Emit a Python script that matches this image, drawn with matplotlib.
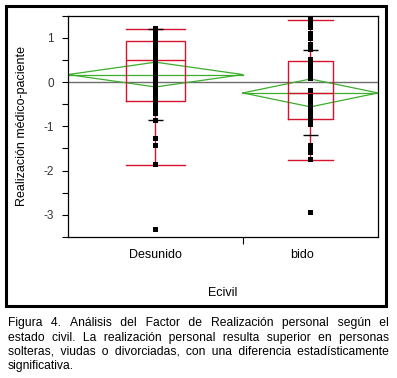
import matplotlib
matplotlib.use('Agg')
import matplotlib.pyplot as plt
from matplotlib.patches import Rectangle
from matplotlib.transforms import ScaledTranslation
import numpy as np

plt.rcParams['font.family'] = ['Liberation Sans', 'DejaVu Sans']

# ---------------- data ----------------
categories = ['Desunido', 'bido']
group_n = [57, 44]

desunido_vals = [1.22, 1.19, 1.16, 1.12, 1.08, 1.04, 1.00, 0.96, 0.92, 0.88, 0.84,
                 0.80, 0.76, 0.72, 0.68, 0.61, 0.57, 0.52, 0.46, 0.42, 0.38, 0.34,
                 0.30, 0.25, 0.20, 0.16, 0.12, 0.08, 0.03, -0.02, -0.06, -0.10,
                 -0.14, -0.18, -0.25, -0.30, -0.35, -0.44, -0.48, -0.52, -0.56,
                 -0.60, -0.64, -0.69, -0.86, -1.26, -1.42, -1.85, -3.33]
unido_vals = [1.43, 1.39, 1.35, 1.30, 1.25, 1.11, 1.00, 0.87, 0.83, 0.79, 0.74,
              0.53, 0.47, 0.42, 0.37, 0.32, 0.27, 0.22, 0.15, 0.10, -0.18, -0.31,
              -0.36, -0.42, -0.53, -0.59, -0.64, -0.69, -0.74, -0.79, -0.84,
              -0.89, -0.95, -1.43, -1.48, -1.53, -1.58, -1.73, -2.93]

q1 = [-0.43, -0.83]
median = [0.50, -0.25]
q3 = [0.92, 0.47]
whisker_lo = [-1.87, -1.76]
whisker_hi = [1.19, 1.40]
q10 = [-0.86, -1.19]
q90 = [1.19, 0.72]
means = [0.17, -0.245]
ci_half = [0.28, 0.315]
grand_mean = 0.0

y_ticks = [-3, -2, -1, 0, 1]

caption_lines = [
    "Figura 4. Análisis del Factor de Realización personal según el",
    "estado civil. La realización personal resulta superior en personas",
    "solteras, viudas o divorciadas, con una diferencia estadísticamente",
    "significativa.",
]

RED = '#d4142c'
GREEN = '#3cae2c'
GRAY = '#6e6e6e'

W, H = 397, 378
fig = plt.figure(figsize=(W / 100, H / 100), dpi=100)
ax_l, ax_r, ax_t, ax_b = 68, 378, 15.7, 237
ax = fig.add_axes([ax_l / W, 1 - ax_b / H, (ax_r - ax_l) / W, (ax_b - ax_t) / H])

edges = np.concatenate([[0], np.cumsum(group_n)])
centers = (edges[:-1] + edges[1:]) / 2
widths = np.array(group_n) / 3.0

# grand mean line
ax.axhline(grand_mean, color=GRAY, lw=1.0, zorder=1)

# mean diamonds
for i in range(2):
    l, r, c = edges[i], edges[i + 1], centers[i]
    m, h = means[i], ci_half[i]
    ax.plot([l, c, r, c, l], [m, m + h, m, m - h, m], color=GREEN, lw=0.9, zorder=2)
    ax.plot([l, r], [m, m], color=GREEN, lw=0.9, zorder=2)

# box plots
stats = []
for i in range(2):
    stats.append(dict(med=median[i], q1=q1[i], q3=q3[i],
                      whislo=whisker_lo[i], whishi=whisker_hi[i], fliers=[]))
ax.bxp(stats, positions=centers, widths=widths, capwidths=widths,
       showfliers=False, manage_ticks=False,
       boxprops=dict(color=RED, lw=1.0),
       medianprops=dict(color=RED, lw=1.0),
       whiskerprops=dict(color=RED, lw=1.0),
       capprops=dict(color=RED, lw=1.0), zorder=3)

# quantile marks
for i in range(2):
    ax.hlines([q10[i], q90[i]], centers[i] - 2.4, centers[i] + 2.4, color='black', lw=1.0, zorder=4)

# points
ax.plot(np.full(len(desunido_vals), centers[0]), desunido_vals, 's', color='black', ms=3.6, mew=0, zorder=5)
ax.plot(np.full(len(unido_vals), centers[1]), unido_vals, 's', color='black', ms=3.6, mew=0, zorder=5)

ax.set_xlim(edges[0], edges[-1])
ax.set_ylim(-3.5, 1.5)
ax.set_yticks(y_ticks)
ax.set_yticklabels([str(t) for t in y_ticks])
ax.set_yticks(np.arange(-3.5, 1.6, 0.5), minor=True)
ax.tick_params(axis='y', which='both', direction='out', length=4, width=0.8, labelsize=8.5, pad=6, colors='black')
ax.tick_params(axis='y', labelcolor='#333333')

ax.set_xticks([edges[1]])
ax.set_xticklabels([''])
ax.set_xticks(centers, minor=True)
ax.set_xticklabels(categories, minor=True)
ax.tick_params(axis='x', which='major', direction='out', length=5, width=0.8)
ax.tick_params(axis='x', which='minor', length=0, labelsize=9, pad=9)
lab2 = ax.xaxis.get_minor_ticks()[1].label1
lab2.set_transform(lab2.get_transform() + ScaledTranslation(-0.08, 0, fig.dpi_scale_trans))

for s in ax.spines.values():
    s.set_linewidth(0.9)

ax.set_xlabel('Ecivil', fontsize=9)
ax.xaxis.set_label_coords(0.5, -0.225)
ax.set_ylabel('Realización médico-paciente', fontsize=9)
ax.yaxis.set_label_coords(-0.13, 0.5)

# outer frame
fig.add_artist(Rectangle((5.5 / W, 1 - 305.5 / H), (386 - 5.5) / W, (305.5 - 5.5) / H,
                         transform=fig.transFigure, fill=False, lw=2.2, ec='black'))

# caption: one text object per line, justified with thin / hair spaces
renderer = fig.canvas.get_renderer()
x0, x1 = 7.5, 388.5
baselines = [326, 340.5, 355, 369.5]
fs = 8.7
probe = fig.text(0, 0, '', fontsize=fs)


def text_w(s):
    probe.set_text(s)
    return probe.get_window_extent(renderer).width


gap_options = []
for base in [' ', '\u2009', '']:
    for m in range(0, 10):
        g = base + '\u200a' * m
        if g:
            gap_options.append(g)

for li, line in enumerate(caption_lines):
    words = line.split(' ')
    justify = li < len(caption_lines) - 1
    if justify and len(words) > 1:
        wids = [text_w(w) for w in words]
        g_ideal = (x1 - x0 - sum(wids)) / (len(words) - 1)
        s = words[0]
        for i in range(1, len(words)):
            desired = sum(wids[:i + 1]) + i * g_ideal
            best, best_err = None, 1e9
            for g in gap_options:
                cand = s + g + words[i]
                err = abs(text_w(cand) - desired)
                if err < best_err:
                    best, best_err = cand, err
            s = best
        out = s
    else:
        out = line
    fig.text(x0 / W, 1 - baselines[li] / H, out, fontsize=fs, va='baseline', ha='left')
probe.set_text('')

fig.savefig('out.png', dpi=100)
